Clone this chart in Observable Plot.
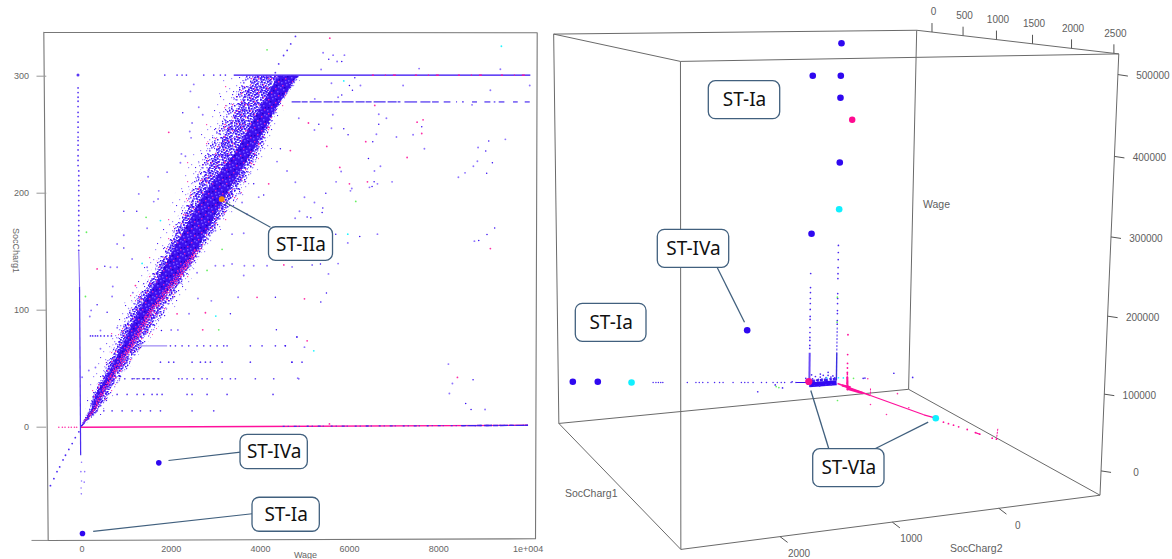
<!DOCTYPE html><html><head><meta charset="utf-8">
<script src="https://cdn.jsdelivr.net/npm/d3@7"></script>
<script src="https://cdn.jsdelivr.net/npm/@observablehq/plot@0.6"></script>
<style>
html,body{margin:0;padding:0;background:#fff;overflow:hidden}
#wrap{position:relative;width:1172px;height:559px}
#left{position:absolute;left:0;top:0}#right{position:absolute;left:550px;top:0}
svg{display:block;background:transparent}
</style></head><body><div id="wrap"><div id="left"></div><div id="right"></div></div>
<script>
const BLUE="#3208f2",LAV="#8f74ff",PINK="#ff2ea6",MAG="#ff109c",CYAN="#20f5ff",GREEN="#66f060",ORANGE="#f08a10",SLATE="#41607e",GREY="#666";
const LABEL='"Liberation Sans",Arial,sans-serif',CALL='"Noto Sans",sans-serif';

/* ---------- left panel: Wage vs SocCharg1 ---------- */
const xTicks=[0,2000,4000,6000,8000,10000], xTickLabels=["0","2000","4000","6000","8000","1e+004"];
const yTicks=[0,100,200,300];
const haloSoc=[10,20,35,50,60,75,90,105,120,135,150,165,180,195,210,225,240,255,270,285,300];
const haloL=[60,110,180,300,430,600,760,950,1150,1350,1600,1780,1960,2020,2280,2330,2650,2700,2950,3050,3200];
const haloR=[480,620,830,1000,1240,1400,1650,2200,2400,2550,2880,3050,3350,3650,3800,4050,4300,4330,4520,4620,5000];
const bandSoc=[0,14,28,42,69,100,125,151,200,236,271,300];
const outerL=[-34,146,235,415,684,1020,1424,1827,2388,2724,3173,3621];
const mid2L=[-30,165,260,450,740,1090,1490,1880,2450,2830,3280,3700];
const midL=[-28,180,280,482,796,1155,1559,1940,2556,3027,3476,3890];
const coreL=[-22,213,325,549,908,1289,1693,2052,2760,3480,3980,4400];
const coreR=[-10,303,482,684,1132,1581,2141,2590,3262,3845,4339,4832];
const midR=[10,359,583,796,1278,1782,2231,2657,3430,3957,4361,4865];
const mid2R=[20,390,640,860,1360,1900,2290,2700,3530,4030,4380,4890];
const outerR=[30,415,684,908,1424,1984,2321,2724,3599,4070,4384,4899];
const pinkSoc=[2,14,28,42,69,100,125,151];
const pinkL=[5,240,400,600,1030,1500,2020,2520];
const pinkR=[20,320,500,720,1180,1650,2190,2640];
const frame=[[-856,337.6],[10206,337.1],[10168,-95.4],[-758,-96.8],[-856,337.6]];
const cap300=[3402,10052], cap278=[4700,7140];
const cap278Segs=[[7229,7513],[7587,7812],[7849,7998],[8110,8260],[8387,8409],[8521,8559],[8745,8857],[9022,9156],[9231,9268],[9343,9470],[9664,9769],[9926,10038]];
const sparse301=[1856,2132,2244,2341,2730,2954,3103,3215];
const streak78=[190,240,300,350,420,500,580,660];
const streak69=[1983,2095,2244,2393,2580,2730,2879,3029,3178,3253,3775,4037,4336,4560];
const streak56=[1759,1945,2057,2468,2655,2767,2879,3141,3775,4709,4933];
const streak41=[720,840,960,1124,1236,1385,1460,1609,1721,2170,2244,2356,2505,2692,2805,3141,3328,3439,3887,4299,4859];
const streak28=[788,1012,1236,1385,1572,1684,1796,2356,2468,2805,3253,4283];
const streak14=[339,489,675,900,1124,1310,1535,1759,2468,2954];
const axisSocUp=[290,286,282,278.6,274,269,265.5,260.7,256.4,252,248,245,241,237,232,228,223.6];
const axisSocMid=[219,215,210.8,206.5,202.2,198,193.7,189.4,185,181,176.6,172.3,168,163.8,159.5,155.2,151];
const axisBelow=[[-10,-30],[-25,-38],[60,-38],[-10,-46],[50,-47],[-20,-52],[-15,-57]];
const diagBelow=[[-70,-4],[-150,-9],[-220,-14],[-295,-19],[-370,-24],[-425,-28],[-500,-34],[-560,-38],[-630,-44],[-707,-50]];
const diagAbove=[[4786,334],[4680,327.6],[4600,322],[4520,317.7],[4410,310.5],[4335,303]];
const lowX=[[-520,0],[-440,0],[-380,0],[-300,0],[-240,0],[-170,0],[-120,0]];
const blueDots=[[5533,314.5],[5824,312.5],[6116,298.6],[5996,292],[6063,288],[5824,284],[6519,244],[5309,259],[5869,255],[6654,259],[7617,256.7],[5966,250],[9119,244.7],[9052,236],[9201,226],[9074,217],[6422,229.6],[6549,209.7],[6504,205.7],[5466,200],[5399,187.4],[5384,183.4],[5130,179],[5048,179.7],[5690,165],[6228,163],[9253,170.3],[9081,164.6],[8895,159.5],[5160,138.7],[5346,139.5],[5481,114.6],[5354,106.9],[4816,77],[4555,69.5],[4704,55.6],[8603,20.2],[8768,40.5],[8723,15.1],[2259,268.7],[2468,260],[1228,184.6],[937,184.6],[937,153.2],[511,137.5],[3327,96.9],[4336,111],[4358,83.2],[4821,77],[3850,208],[4074,198.5],[4448,238],[1781,82.6],[563,98.3],[339,104.6]];
const lavDots=[[5406,320],[5630,318],[5884,318],[5720,312.5],[5361,305.7],[9380,306],[7558,306.5],[5593,294],[6243,292],[7199,292],[5742,282],[9156,288],[10038,292],[5219,280.6],[8745,275.5],[5623,267],[6654,267.5],[6825,264],[4861,264],[5212,254],[5593,255.5],[6601,250.4],[7050,248],[7423,250],[7677,238],[9492,246],[8880,239],[8865,227.3],[8775,223],[8588,217.4],[8439,213.6],[6691,223],[6557,219],[5810,218.5],[5697,209.7],[6952,209.7],[6624,208],[6445,205],[6049,204],[6019,202],[4779,178.6],[4876,184.6],[5212,192],[4988,196.5],[5959,157.5],[6624,165],[8798,159],[5742,139.8],[4711,137],[5526,131],[4988,68.4],[4838,41.9],[8215,53.9],[8305,37.3],[8237,28.8],[9037,15.1],[2506,293],[2431,287],[2618,273.5],[2707,267],[2416,252.7],[2446,247.3],[2229,233.6],[2319,231.6],[2207,226],[1482,214],[1908,218],[1721,202],[1273,199.4],[1609,192.8],[1706,195],[1460,170],[937,164],[788,156.6],[638,136.7],[788,136.7],[1124,143.8],[1460,136.7],[4373,227],[4597,219],[4784,209.4],[3551,200],[3962,196.6],[3589,192],[3701,182],[3626,165.8],[2991,168],[3365,165],[2730,165],[3641,138],[3850,138],[4149,138],[2580,132],[2991,138],[3178,138],[3365,139.5],[3626,129.6],[2400,97],[2600,110],[2900,108],[3500,111],[2000,83],[2150,83],[205,99.8],[175,94.6],[690,120.3],[675,111.7],[414,82.6],[790,85],[1050,90],[414,67],[302,51],[153,48.4],[3,42.7],[1140,115]];
const pinkDots=[[5556,332.5],[6564,275],[5077,260],[7513,260.7],[7647,262.7],[7617,251],[6362,244],[5488,240],[7289,230.5],[5780,222],[5996,208],[6400,209.7],[9156,152.7],[4525,138.7],[4988,109.7],[5048,73.8],[8417,42.5],[5548,2.8],[1945,252],[339,135.3],[4186,256.4],[4672,236.4],[4186,208],[2132,96.9],[2767,97.8],[2707,83.2],[3925,111],[1198,121]];
const cyanDots=[[9403,325.6],[5869,296],[5959,165],[5197,65.3],[1759,176.6],[1348,140],[3000,95]];
const greenDots=[[4149,322.5],[6138,193],[1437,179.4],[100,166.6],[3141,152],[2804,134],[3066,83.2],[78,111.7]];
const featOrange=[[3134,195]], featBlue=[[1722,-30.5],[11,-90.9]];
const leftCallouts=[
 {label:"ST-IIa",x1:4193,x2:5628,y1:142.2,y2:170.9,cx:4910,cy:156.2},
 {label:"ST-IVa",x1:3554,x2:5063,y1:-35.9,y2:-6.5,cx:4308,cy:-21.4},
 {label:"ST-Ia",x1:3823,x2:5332,y1:-89.4,y2:-60.3,cx:4577,cy:-75}];
const leftLeaders=[[3218,192,4226,170.9],[1939,-28.5,3554,-21.4],[251,-89.1,3816,-74]];

/* ---------- right panel: SocCharg1 / SocCharg2 / Wage (soc1, soc2, wage) ---------- */
const soc1Range=[-260,2555], soc2Range=[-1000,2840], wageRange=[-32000,525000];
const soc1Ticks=[0,500,1000,1500,2000,2500], soc2Ticks=[0,1000,2000], wageTicks=[0,100000,200000,300000,400000,500000];
const blue3D=[[0,3,510378],[0,309,464112],[0,5,463256],[0,5,431279],[0,2,336409],[0,301,232829],[0,988,95753],[0,2786,41552],[0,2537,38330]];
const cyan3D=[[0,1,267166],[0,2196,32899],[1661,0,36194]];
const pink3D=[[210,0,403255]];
const pinkBig3D=[[0,311,10011]];
const lineSoc2=[1975,1946,1921,1896,1875,1620,1530,1495,1458,1404,1333,1280,1243,1136,1047,1011,975,921,830,776,704,658,615,578,507,453];
const lineWage=[30000,29600,29300,29000,28700,25400,24200,23800,23300,22600,21700,21000,20500,19200,18000,17500,17100,16400,15200,14500,13600,13000,12400,12000,11000,10300];
const spike1Wage=[173600,152500,145000,136000,128500,119500,109000,104500,92200,84600,77100,72600,65000,60500];
const spike2Wage=[213000,202400,191800,179700,170600,163100,140500,133000,125300,114600,110000,99400,94000];
const pinkSpikeWage=[86200,56300,43000,36000,29300,22000,13000,7000];
const blob3D=[[0,270,13600],[0,238,16700],[0,205,12000],[0,184,15100],[0,151,17500],[0,119,13600],[0,97,16700],[0,65,13600],[0,43,15100],[0,22,12000],[0,281,19800],[0,184,19800],[0,97,21350],[0,495,12000],[0,345,15300],[0,680,9500],[0,870,1700],[0,600,4000],[0,-300,7000],[0,-320,7200],[0,-651,10500],[0,-871,1200],[0,260,10500],[0,225,11000],[0,165,12000],[0,130,10800],[0,75,11200],[0,30,9800],[0,290,11500],[0,250,2000],[0,190,1500],[0,120,2200],[0,60,1800],[0,300,3000]];
const pinkLineEnd=[[1774,36710],[1846,38500],[1918,40260],[1990,42000],[2109,44744],[2220,46700],[2279,47793],[2442,51499],[2497,53245]];
const pinkLoose=[[618,1865],[892,1280],[1249,29265],[563,37164],[1064,40000]];
const green3D=[[0,-13,-23548],[0,5,97000],[0,6,135000],[0,670,7000],[0,640,5000],[0,-190,8500]];
const cyan3Dsmall=[[0,110,12800],[0,-20,11500],[0,-75,10500]];
const rightCallouts=[
 {label:"ST-Ia",x1:708.3,x2:779.7,y1:80.7,y2:118.7},
 {label:"ST-IVa",x1:657.3,x2:728.7,y1:229.3,y2:267.3},
 {label:"ST-Ia",x1:575.3,x2:646,y1:303.3,y2:341.3},
 {label:"ST-VIa",x1:812.7,x2:884,y1:448.7,y2:486.7}];
const rightLeaders=[[716.7,267,744,321.7],[828.3,448.3,810.3,390],[875,448,927.7,421.7]];
/* camera calibration read from the drawn box: soc1, soc2, wage, plane x, plane y */
const camera=[[-260,-1000,525000,916,30],[2555,-1000,525000,1118,54],[-260,2840,525000,553,33],[2555,2840,525000,680,61.5],
[-260,-1000,-32000,908.3,389],[2555,-1000,-32000,1099,495],[-260,2840,-32000,558.7,423],[2555,2840,-32000,680.3,548],
[0,-1000,525000,931.7,31.7],[500,-1000,525000,962.3,35],[1000,-1000,525000,995.7,39],[1500,-1000,525000,1032,43.3],[2000,-1000,525000,1070.7,48.3],[2500,-1000,525000,1113.3,52.7],
[2555,-1000,500000,1118,74],[2555,-1000,400000,1115,155.7],[2555,-1000,300000,1110.7,236],[2555,-1000,200000,1107.3,315],[2555,-1000,100000,1103.3,393],[2555,-1000,0,1100.7,470],
[2555,2000,-32000,779.3,536.7],[2555,1000,-32000,891.7,522.3],[2555,0,-32000,998.3,508.3]];

/* texture tiles standing for the too-dense-to-list cloud: x, y within tile */
const tileHaloL=[[3,2],[14,4],[8,9],[1,12],[17,15],[10,17]];
const tileHaloB=[[11,1],[5,15]];
const tileHaloP=[[16,10]];
const tileSparseB=[[1,2],[8,1],[4,7],[11,9],[7,11]];
const tileSparseL=[[5,3],[10,4],[2,9],[8,7],[12,12],[0,6],[5,12],[12,1],[14,14],[15,6],[2,14]];
const tileSparseP=[[3,5],[16,11]];
const tileMidB=[[0,1],[6,2],[1,4],[7,5],[2,7],[8,8],[0,9],[6,9],[4,1],[10,6],[13,3],[15,11],[12,13]];
const tileMidL=[[3,0],[9,1],[4,3],[10,4],[5,6],[11,7],[3,10],[9,10],[1,11],[7,11],[14,8],[16,1],[5,14],[15,14]];
const tileMidP=[[11,2],[3,8],[13,10]];
const tileDenseB=[[0,0],[3,1],[6,0],[9,2],[1,3],[4,4],[7,3],[10,5],[2,6],[5,7],[8,6],[0,8],[3,9],[6,10],[9,9],[1,11],[4,12],[7,12],[10,11]];
const tileDenseL=[[1,1],[5,2],[8,1],[11,3],[2,4],[6,5],[9,5],[0,6],[4,8],[7,8],[10,8],[2,9],[5,10],[8,11],[0,12],[3,12],[11,12]];
const tileDenseP=[[11,0],[3,6],[7,10]];
const tileCoreP=[[2,1],[9,4],[5,8],[12,11]];
const tileCoreL=[[6,0],[0,3],[3,5],[11,7],[8,10],[1,12],[12,2],[5,11],[9,13]];
const tileCoreD=[[4,3],[10,1],[7,6],[2,9],[13,9]];
const tilePinkP=[[0,0],[3,1],[1,2],[5,3],[2,4],[4,5],[0,4]];

/* ---------- projection fit ---------- */
const camScale=[1000,1000,100000];
function fitCamera(){const A=[],b=[];for(const [a,c,w,x,y] of camera){const u=a/camScale[0],v=c/camScale[1],t=w/camScale[2];
A.push([u,v,t,1,0,0,0,0,-x*u,-x*v,-x*t]);b.push(x);A.push([0,0,0,0,u,v,t,1,-y*u,-y*v,-y*t]);b.push(y);}
const n=11,N=Array.from({length:n},(_,i)=>Array.from({length:n+1},(_,j)=>{let s=0;for(let k=0;k<A.length;k++)s+=A[k][i]*(j<n?A[k][j]:b[k]);return s;}));
for(let i=0;i<n;i++){let m=i;for(let r=i;r<n;r++)if(Math.abs(N[r][i])>Math.abs(N[m][i]))m=r;[N[i],N[m]]=[N[m],N[i]];
for(let r=0;r<n;r++)if(r!==i){const f=N[r][i]/N[i][i];for(let c=i;c<=n;c++)N[r][c]-=f*N[i][c];}}
return N.map((r,i)=>r[n]/r[i]);}
const P=fitCamera();
function proj([a,c,w]){const u=a/camScale[0],v=c/camScale[1],t=w/camScale[2],h=P[8]*u+P[9]*v+P[10]*t+1;return [(P[0]*u+P[1]*v+P[2]*t+P[3])/h,(P[4]*u+P[5]*v+P[6]*t+P[7])/h];}
const px=d=>proj(d)[0],py=d=>proj(d)[1];

/* ---------- left plot ---------- */
const band=bandSoc.map((s,i)=>({s,oL:outerL[i],m2L:mid2L[i],mL:midL[i],cL:coreL[i],cR:coreR[i],mR:midR[i],m2R:mid2R[i],oR:outerR[i]}));
const halo=haloSoc.map((s,i)=>({s,l:haloL[i],r:haloR[i]}));
const pinkBand=pinkSoc.map((s,i)=>({s,l:pinkL[i],r:pinkR[i]}));
const atSoc=(list,s)=>list.map(w=>[w,s]);
const axisUp=axisSocUp.map(s=>[-88,s]).concat(axisSocMid.map(s=>[-72,s]));
const streaks=[].concat(atSoc(streak78,78),atSoc(streak69,69.5),atSoc(streak56,55.6),atSoc(streak41,41.4),atSoc(streak28,28),atSoc(streak14,14),atSoc(sparse301,301));
const dots=(data,fill,r)=>Plot.dot(data,{x:d=>d[0],y:d=>d[1],r,fill,stroke:"none"});
const leftPlot=Plot.plot({width:550,height:559,margin:0,
 x:{domain:[-1827,10504],range:[0,550],axis:null},
 y:{domain:[-113.1,364.7],range:[559,0],axis:null},
 marks:[
  Plot.areaX(halo,{y:"s",x1:"l",x2:"r",fill:"url(#texHalo)"}),
  Plot.areaX(band,{y:"s",x1:"oL",x2:"oR",fill:"url(#texSparse)"}),
  Plot.areaX(band,{y:"s",x1:"m2L",x2:"m2R",fill:"url(#texMid)"}),
  Plot.areaX(band,{y:"s",x1:"mL",x2:"mR",fill:"url(#texDense)"}),
  Plot.areaX(band,{y:"s",x1:"cL",x2:"cR",fill:"url(#texCore)"}),
  Plot.areaX(pinkBand,{y:"s",x1:"l",x2:"r",fill:"url(#texPink)"}),
  Plot.line(frame,{x:d=>d[0],y:d=>d[1],stroke:"#777",strokeWidth:1.1}),
  Plot.link([[-1132,-96.8]],{x1:d=>d[0],y1:d=>d[1],x2:()=>-758,y2:()=>-96.8,stroke:"#888",strokeWidth:1}),
  Plot.link(yTicks,{x1:()=>-1020,x2:()=>-800,y1:d=>d,y2:d=>d,stroke:"#999",strokeWidth:1}),
  Plot.text(yTicks,{x:()=>-1190,y:d=>d,text:d=>String(d),textAnchor:"end",fontFamily:LABEL,fontSize:9,fill:GREY}),
  Plot.text(xTicks,{x:d=>d,y:()=>-104,text:(d,i)=>xTickLabels[i],fontFamily:LABEL,fontSize:9,fill:GREY}),
  Plot.text(["Wage"],{x:()=>5011,y:()=>-109.5,text:d=>d,fontFamily:LABEL,fontSize:9,fill:GREY}),
  Plot.text(["SocCharg1"],{x:()=>-1490,y:()=>151,text:d=>d,rotate:90,fontFamily:LABEL,fontSize:9,fill:GREY}),
  /* lines */
  Plot.link([[-30,10000]],{x1:d=>d[0],x2:d=>d[1],y1:()=>0,y2:()=>1.6,stroke:MAG,strokeWidth:1.4}),
  Plot.link([[4500,10000]],{x1:d=>d[0],x2:d=>d[1],y1:()=>.7,y2:()=>1.6,stroke:"#4a30ea",strokeWidth:1.3,strokeDasharray:"2 3 1 5 3 2 1 7"}),
  Plot.link([[8500,10000]],{x1:d=>d[0],x2:d=>d[1],y1:()=>1.3,y2:()=>1.6,stroke:"#3a20ee",strokeWidth:1.4,strokeDasharray:"5 2 8 1"}),
  Plot.link([cap300],{x1:d=>d[0],x2:d=>d[1],y1:()=>301,y2:()=>301,stroke:BLUE,strokeWidth:1.3}),
  Plot.link([[6500,10052]],{x1:d=>d[0],x2:d=>d[1],y1:()=>301,y2:()=>301,stroke:MAG,strokeWidth:1.2,strokeDasharray:"2 11 1 7 3 19"}),
  Plot.link([cap278],{x1:d=>d[0],x2:d=>d[1],y1:()=>278,y2:()=>278,stroke:"#4a2cf0",strokeWidth:1.2,strokeDasharray:"9 1 6 2 12 2"}),
  Plot.link(cap278Segs,{x1:d=>d[0],x2:d=>d[1],y1:()=>278,y2:()=>278,stroke:"#4a2cf0",strokeWidth:1.2}),
  Plot.link([[1235,1909]],{x1:d=>d[0],x2:d=>d[1],y1:()=>69.5,y2:()=>69.5,stroke:"#9a85f5",strokeWidth:1.2}),
  Plot.link([[1124,1721]],{x1:d=>d[0],x2:d=>d[1],y1:()=>41.4,y2:()=>41.4,stroke:"#5a3ee8",strokeWidth:1,strokeDasharray:"3 2"}),
  Plot.link([[-72,150,-55,120]],{x1:d=>d[0],y1:d=>d[1],x2:d=>d[2],y2:d=>d[3],stroke:"#7c60f5",strokeWidth:1}),
  Plot.link([[-55,120,-30,-24]],{x1:d=>d[0],y1:d=>d[1],x2:d=>d[2],y2:d=>d[3],stroke:"#4a2cf0",strokeWidth:1.2}),
  /* scattered points */
  dots(axisUp,"#5a38f5",.9),dots(axisBelow,LAV,.8),dots(diagBelow,"#4a28f5",.9),dots(diagAbove,"#5a38f5",.9),dots(lowX,PINK,.8),
  dots(streaks,"#5a38f5",.85),dots(lavDots,LAV,.95),dots(blueDots,BLUE,.75),dots(pinkDots,PINK,.9),dots(cyanDots,CYAN,.9),dots(greenDots,GREEN,.9),
  dots([[-90,301]],"#5a38f5",1.5),
  /* features */
  dots(featOrange,ORANGE,2.9),dots(featBlue,"#2f08f0",2.8),
  Plot.link(leftLeaders,{x1:d=>d[0],y1:d=>d[1],x2:d=>d[2],y2:d=>d[3],stroke:SLATE,strokeWidth:1.2}),
  Plot.rect(leftCallouts,{x1:"x1",x2:"x2",y1:"y1",y2:"y2",fill:"#fff",stroke:SLATE,strokeWidth:1.3,rx:7}),
  Plot.text(leftCallouts,{x:"cx",y:"cy",text:"label",fontFamily:CALL,fontSize:19,fill:"#111"})
 ]});

/* texture defs */
const defs=d3.select(leftPlot).insert("defs",":first-child");
function tile(id,size,layers,bg){const p=defs.append("pattern").attr("id",id).attr("patternUnits","userSpaceOnUse").attr("width",size).attr("height",size);
 if(bg)p.append("rect").attr("width",size).attr("height",size).attr("fill",bg);
 for(const [list,color,s] of layers)for(const [x,y] of list)p.append("rect").attr("x",x).attr("y",y).attr("width",s).attr("height",s).attr("fill",color);}
tile("texHalo",19,[[tileHaloL,"#a08cff",1.2],[tileHaloB,"#4a20f5",1.1],[tileHaloP,"#ff4ab4",1.2]]);
tile("texSparse",17,[[tileSparseB,"#4a20f5",1.2],[tileSparseL,"#a08cff",1.3],[tileSparseP,"#ff4ab4",1.2]]);
tile("texMid",17,[[tileMidB,"#3a10f5",1.5],[tileMidL,"#7b5cff",1.6],[tileMidP,"#ff2ea6",1.3]]);
tile("texDense",13,[[tileDenseL,"#7b5cff",1.6],[tileDenseB,"#3a10f5",1.7],[tileDenseP,"#f52ab0",1.4]]);
tile("texCore",14,[[tileCoreP,"#e020b8",1.4],[tileCoreL,"#7a58ff",1.5],[tileCoreD,"#2400c8",1.5]],"#3c10ee");
tile("texPink",6,[[tilePinkP,"#f02ab0",1.5]]);

document.getElementById("left").appendChild(leftPlot);

/* ---------- right plot ---------- */
const [a0,a1]=soc1Range,[b0,b1]=soc2Range,[c0,c1]=wageRange;
const boxEdges=[
 [[a0,b0,c1],[a1,b0,c1]],[[a1,b0,c1],[a1,b1,c1]],[[a1,b1,c1],[a0,b1,c1]],[[a0,b1,c1],[a0,b0,c1]],
 [[a0,b0,c0],[a1,b0,c0]],[[a1,b0,c0],[a1,b1,c0]],[[a1,b1,c0],[a0,b1,c0]],[[a0,b1,c0],[a0,b0,c0]],
 [[a0,b0,c0],[a0,b0,c1]],[[a1,b0,c0],[a1,b0,c1]],[[a1,b1,c0],[a1,b1,c1]],[[a0,b1,c0],[a0,b1,c1]]];
const seg=(rows,stroke,strokeWidth,extra={})=>Plot.link(rows,{x1:d=>px(d[0]),y1:d=>py(d[0]),x2:d=>px(d[1]),y2:d=>py(d[1]),stroke,strokeWidth,...extra});
const dots3=(rows,fill,r)=>Plot.dot(rows,{x:px,y:py,r,fill,stroke:"none"});
const lbl=(rows,text,dx,dy,size=10)=>Plot.text(rows,{x:px,y:py,text,dx,dy,fontFamily:LABEL,fontSize:size,fill:"#5e5e5e"});
const s1T=soc1Ticks.map(v=>[v,b0,c1]),s2T=soc2Ticks.map(v=>[a1,v,c0]),wT=wageTicks.map(v=>[a1,b0,v]);
const spike1=spike1Wage.map(w=>[0,305,w]),spike2=spike2Wage.map(w=>[0,3,w]),pinkSpike=pinkSpikeWage.map(w=>[197,0,w]);
const line3=lineSoc2.map((s,i)=>[0,s,lineWage[i]]);
const rightPlot=Plot.plot({width:622,height:559,margin:0,
 x:{domain:[550,1172],range:[0,622],axis:null},
 y:{domain:[0,559],range:[0,559],axis:null},
 marks:[
  seg(boxEdges,"#6a6a6a",1),
  Plot.link(s1T,{x1:px,y1:py,x2:px,y2:d=>py(d)-9,stroke:"#555",strokeWidth:1}),
  Plot.link(wT,{x1:px,y1:py,x2:d=>px(d)+10,y2:d=>py(d)+1.5,stroke:"#555",strokeWidth:1}),
  Plot.link(s2T,{x1:px,y1:py,x2:d=>px(d)+7.6,y2:d=>py(d)+5.8,stroke:"#555",strokeWidth:1}),
  lbl(s1T,d=>String(d[0]),1.5,-20),
  lbl(wT,d=>String(d[2]),35,1.5),
  Plot.text(s2T,{x:px,y:py,text:d=>String(d[1]),dx:19,dy:17,fontFamily:LABEL,fontSize:10,fill:"#5e5e5e"}),
  Plot.text(["SocCharg1"],{x:()=>590.7,y:()=>493.3,text:d=>d,fontFamily:LABEL,fontSize:10.5,fill:"#5e5e5e"}),
  Plot.text(["SocCharg2"],{x:()=>975.7,y:()=>547.7,text:d=>d,fontFamily:LABEL,fontSize:10.5,fill:"#5e5e5e"}),
  Plot.text(["Wage"],{x:()=>936,y:()=>204,text:d=>d,fontFamily:LABEL,fontSize:10.5,fill:"#5e5e5e"}),
  /* dense parts */
  seg([[[0,305,54000],[0,305,8300]]],"#6a4cf6",2),
  seg([[[0,3,88800],[0,3,50000]]],"#4a30f0",1,{strokeDasharray:"2 1.5"}),
  seg([[[0,3,50000],[0,3,7400]]],"#3a30e0",1.4),
  seg([[[197,0,29300],[205,0,2200]]],MAG,1.4,{strokeDasharray:"3 1"}),
  seg([[[197,0,22000],[205,0,3000]]],MAG,2),
  seg([[[0,453,10300],[0,311,8500]]],"#3a10f0",1.2),
  seg([[[0,0,4200],[0,305,5000]]],"#3208f2",5),
  seg([[[0,10,10000],[0,300,10500]]],"#3a14f0",2.5,{strokeDasharray:"3 1 2 2 4 1"}),
  seg([[[17,0,3721],[615,0,15027]]],MAG,1.5),
  seg([[[615,0,15027],[1482,0,31500]],[[1482,0,31500],[1661,0,36194]]],MAG,1.2),
  seg([[[197,0,4800],[480,0,11800]]],MAG,2.3),
  seg([[[100,0,5000],[260,0,9500]]],MAG,2.4),
  seg([[[2220,0,46700],[2279,0,47793]]],MAG,1.2),
  seg([[[613,0,25252],[615,0,15027]],[[2510,0,67168],[2497,0,53245]]],MAG,1,{strokeDasharray:"2 1"}),
  /* scattered */
  dots3(line3,"#4a28f0",.75),dots3(spike1,"#4a28f0",.85),dots3(spike2,"#4a28f0",.85),
  dots3(pinkSpike,MAG,.9),dots3(blob3D,"#4a28f0",.85),
  Plot.dot(pinkLineEnd,{x:d=>px([d[0],0,d[1]]),y:d=>py([d[0],0,d[1]]),r:.9,fill:MAG}),
  Plot.dot(pinkLoose,{x:d=>px([d[0],0,d[1]]),y:d=>py([d[0],0,d[1]]),r:.8,fill:PINK}),
  dots3(green3D,GREEN,.85),dots3(cyan3Dsmall,CYAN,.85),
  /* features */
  dots3(blue3D,"#2f08f0",3.3),dots3(cyan3D,"#10f0ff",3.3),dots3(pink3D,"#ff0a90",3.2),dots3(pinkBig3D,"#f5108f",3.6),
  Plot.link(rightLeaders,{x1:d=>d[0],y1:d=>d[1],x2:d=>d[2],y2:d=>d[3],stroke:SLATE,strokeWidth:1.3}),
  Plot.rect(rightCallouts,{x1:"x1",x2:"x2",y1:"y1",y2:"y2",fill:"#fff",stroke:SLATE,strokeWidth:1.3,rx:7}),
  Plot.text(rightCallouts,{x:d=>(d.x1+d.x2)/2,y:d=>(d.y1+d.y2)/2,text:"label",fontFamily:CALL,fontSize:19,fill:"#111"})
 ]});
document.getElementById("right").appendChild(rightPlot);
</script></body></html>
